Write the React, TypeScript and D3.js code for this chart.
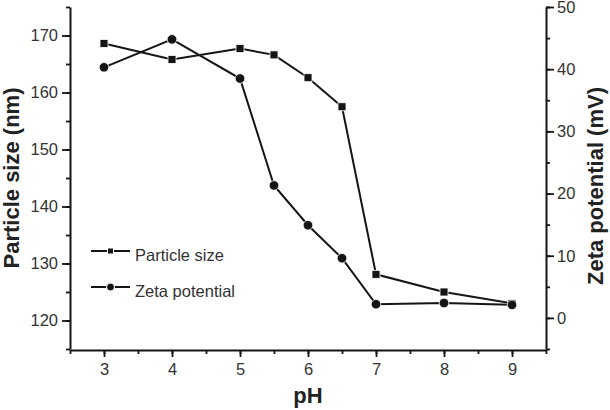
import React, { useEffect, useRef } from 'react';
import * as d3 from 'd3';

// values
const pH = [3, 4, 5, 5.5, 6, 6.5, 7, 8, 9];
const particleSize = [168.6, 165.8, 167.7, 166.6, 162.6, 157.5, 128.1, 125.0, 123.0];
const zetaPotential = [40.3, 44.8, 38.5, 21.3, 14.9, 9.6, 2.2, 2.4, 2.1];

const xTicks = [3, 4, 5, 6, 7, 8, 9];
const leftTicks = [120, 130, 140, 150, 160, 170];
const rightTicks = [0, 10, 20, 30, 40, 50];

const legendLabels = ['Particle size', 'Zeta potential'];

const App = () => {
    const ref = useRef<SVGSVGElement>(null);

    useEffect(() => {
        const width = 610;
        const height = 410;
        const left = 70;
        const right = 546;
        const top = 7;
        const bottom = 349;
        const ink = '#151515';
        const labelColor = '#333333';
        const font = 'Arial, "Liberation Sans", sans-serif';

        const svg = d3.select(ref.current);
        svg.selectAll('*').remove();
        svg.attr('width', width).attr('height', height);

        // scales
        const x = d3.scaleLinear().domain([2.5, 9.5]).range([left, right]);
        const yLeft = d3.scaleLinear().domain([115, 175]).range([bottom, top]);
        const yRight = d3.scaleLinear().domain([-5, 50]).range([bottom, top]);

        const styleAxis = (g) => {
            g.select('.domain').attr('stroke', ink).attr('stroke-width', 2);
            g.selectAll('.tick line').attr('stroke', ink).attr('stroke-width', 1.8);
            g.selectAll('.tick text')
                .attr('fill', labelColor)
                .style('font-family', font)
                .style('font-size', '16.5px');
        };

        // minor ticks first (no labels)
        const xMinor = d3.range(2.5, 9.51, 0.5);
        svg.append('g')
            .attr('transform', `translate(0, ${bottom + 1})`)
            .call(d3.axisBottom(x).tickValues(xMinor).tickSize(4).tickFormat(() => '').tickSizeOuter(0))
            .call(styleAxis);
        svg.append('g')
            .attr('transform', `translate(${left}, 0)`)
            .call(d3.axisLeft(yLeft).tickValues(d3.range(115, 176, 5)).tickSize(4).tickFormat(() => '').tickSizeOuter(0))
            .call(styleAxis);
        svg.append('g')
            .attr('transform', `translate(${right}, 0)`)
            .call(d3.axisRight(yRight).tickValues(d3.range(-5, 51, 5)).tickSize(4).tickFormat(() => '').tickSizeOuter(0))
            .call(styleAxis);

        // major ticks with labels
        const gx = svg.append('g')
            .attr('transform', `translate(0, ${bottom + 1})`)
            .call(d3.axisBottom(x).tickValues(xTicks).tickFormat(d3.format('d')).tickSize(7).tickPadding(6).tickSizeOuter(0))
            .call(styleAxis);
        gx.select('.domain').remove();
        const gl = svg.append('g')
            .attr('transform', `translate(${left}, 0)`)
            .call(d3.axisLeft(yLeft).tickValues(leftTicks).tickSize(8).tickPadding(4).tickSizeOuter(0))
            .call(styleAxis);
        gl.select('.domain').remove();
        const gr = svg.append('g')
            .attr('transform', `translate(${right}, 0)`)
            .call(d3.axisRight(yRight).tickValues(rightTicks).tickSize(8).tickPadding(3).tickSizeOuter(0))
            .call(styleAxis);
        gr.select('.domain').remove();

        // axis titles
        const title = (sel) => sel
            .attr('fill', '#222')
            .style('font-family', font)
            .style('font-size', '22px')
            .style('font-weight', 'bold')
            .attr('text-anchor', 'middle');

        svg.append('text')
            .attr('x', (left + right) / 2)
            .attr('y', 403)
            .text('pH')
            .call(title);
        svg.append('text')
            .attr('transform', `translate(19, ${(top + bottom) / 2}) rotate(-90)`)
            .text('Particle size (nm)')
            .call(title);
        svg.append('text')
            .attr('transform', `translate(603, ${(top + bottom) / 2 + 8}) rotate(-90)`)
            .text('Zeta potential (mV)')
            .call(title);

        // lines
        const sizeLine = d3.line<number>()
            .x((_, i) => x(pH[i]))
            .y((d) => yLeft(d));
        const zetaLine = d3.line<number>()
            .x((_, i) => x(pH[i]))
            .y((d) => yRight(d));

        svg.append('path')
            .datum(particleSize)
            .attr('d', sizeLine)
            .attr('fill', 'none')
            .attr('stroke', ink)
            .attr('stroke-width', 2);
        svg.append('path')
            .datum(zetaPotential)
            .attr('d', zetaLine)
            .attr('fill', 'none')
            .attr('stroke', ink)
            .attr('stroke-width', 2);

        // markers
        svg.append('g')
            .selectAll('rect')
            .data(particleSize)
            .enter()
            .append('rect')
            .attr('x', (_, i) => x(pH[i]) - 4)
            .attr('y', (d) => yLeft(d) - 4)
            .attr('width', 8)
            .attr('height', 8)
            .attr('fill', ink)
            .attr('stroke', '#fff')
            .attr('stroke-width', 0.8);
        svg.append('g')
            .selectAll('circle')
            .data(zetaPotential)
            .enter()
            .append('circle')
            .attr('cx', (_, i) => x(pH[i]))
            .attr('cy', (d) => yRight(d))
            .attr('r', 4.8)
            .attr('fill', ink)
            .attr('stroke', '#fff')
            .attr('stroke-width', 0.8);

        // legend
        const legend = svg.append('g');
        const legendY = [251, 287];
        legendLabels.forEach((label, i) => {
            const cy = legendY[i];
            legend.append('line')
                .attr('x1', 91).attr('x2', 130)
                .attr('y1', cy).attr('y2', cy)
                .attr('stroke', ink)
                .attr('stroke-width', 2);
            if (i === 0) {
                legend.append('rect')
                    .attr('x', 107.5).attr('y', cy - 3)
                    .attr('width', 6).attr('height', 6)
                    .attr('fill', ink)
                    .attr('stroke', '#fff')
                    .attr('stroke-width', 1);
            } else {
                legend.append('circle')
                    .attr('cx', 110.5).attr('cy', cy)
                    .attr('r', 4)
                    .attr('fill', ink)
                    .attr('stroke', '#fff')
                    .attr('stroke-width', 1);
            }
            legend.append('text')
                .attr('x', 135)
                .attr('y', cy + 9.5)
                .attr('fill', labelColor)
                .style('font-family', font)
                .style('font-size', '16.5px')
                .text(label);
        });
    }, []);

    return (
        <svg ref={ref} style={{ position: 'absolute', left: 0, top: 0, background: '#fff' }} />
    );
};

export default App;
